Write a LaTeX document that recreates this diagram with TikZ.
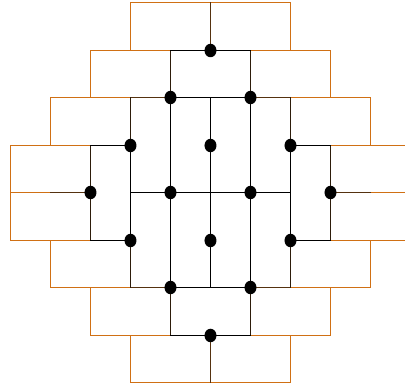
\documentclass[tikz,border=0pt]{standalone}
\usetikzlibrary{shapes.geometric}
\definecolor{brickorange}{RGB}{208,112,20}
\definecolor{linkbrown}{RGB}{85,50,15}
\definecolor{rimbrown}{RGB}{45,28,10}
\newcommand\gridseg[5]{%
  \pgfmathtruncatemacro\gsa{#2+5}\pgfmathtruncatemacro\gsb{#3+4}%
  \pgfmathtruncatemacro\gsc{#4+5}\pgfmathtruncatemacro\gsd{#5+4}%
  \draw[#1] (g\gsa-\gsb) -- (g\gsc-\gsd);}
\begin{document}
\begin{tikzpicture}[x=1pt,y=1pt,
  edgebase/.style={line width=1pt, line cap=rect},
  og/.style={edgebase, draw=brickorange},
  lb/.style={edgebase, draw=linkbrown},
  rb/.style={edgebase, draw=rimbrown},
  bk/.style={edgebase, draw=black},
  vdot/.style={ellipse, fill=black, inner sep=0pt, minimum width=12pt, minimum height=13.5pt}]
\useasboundingbox (-210.5,-194.5) rectangle (194.5,192.5);
\clip (-210.5,-194.5) rectangle (194.5,192.5);
\foreach \i in {-5,...,5}{
  \foreach \j in {-4,...,4}{
    \pgfmathtruncatemacro\ga{\i+5}\pgfmathtruncatemacro\gb{\j+4}
    \pgfmathsetmacro\gy{{-190,-143,-95,-48,0,47,95,142,190}[\gb]}
    \coordinate (g\ga-\gb) at (\i*40,\gy);
  }
}
% orange bricks
\foreach \a/\b/\c/\d in {
  -2/4/2/4, -3/3/-1/3, 1/3/3/3, -4/2/-2/2, 2/2/4/2,
  -5/1/-3/1, 3/1/5/1, -5/0/-4/0, 4/0/5/0, -5/-1/-3/-1, 3/-1/5/-1,
  -4/-2/-2/-2, 2/-2/4/-2, -3/-3/-1/-3, 1/-3/3/-3, -2/-4/2/-4,
  -2/3/-2/4, 2/3/2/4, -3/2/-3/3, 3/2/3/3, -4/1/-4/2, 4/1/4/2,
  -5/-1/-5/1, 5/-1/5/1, -4/-2/-4/-1, 4/-2/4/-1,
  -3/-3/-3/-2, 3/-3/3/-2, -2/-4/-2/-3, 2/-4/2/-3}
  {\gridseg{og}{\a}{\b}{\c}{\d}}
% brown links
\foreach \a/\b/\c/\d in {
  -2/2/-1/2, 1/2/2/2, -2/-2/-1/-2, 1/-2/2/-2,
  -4/0/-3/0, 3/0/4/0, 0/3/0/4, 0/-4/0/-3}
  {\gridseg{lb}{\a}{\b}{\c}{\d}}
% rim edges
\foreach \a/\b/\c/\d in {
  -3/-1/-3/1, 3/-1/3/1, -2/1/-2/2, 2/1/2/2, -2/-2/-2/-1, 2/-2/2/-1,
  -1/2/-1/3, 1/2/1/3, -1/-3/-1/-2, 1/-3/1/-2}
  {\gridseg{rb}{\a}{\b}{\c}{\d}}
% black interior
\foreach \a/\b/\c/\d in {
  -1/3/1/3, -1/2/1/2, -3/1/-2/1, 2/1/3/1, -2/0/2/0,
  -3/-1/-2/-1, 2/-1/3/-1, -1/-2/1/-2, -1/-3/1/-3,
  -2/-1/-2/1, 2/-1/2/1, -1/-2/-1/2, 1/-2/1/2, 0/-2/0/2}
  {\gridseg{bk}{\a}{\b}{\c}{\d}}
% vertices
\foreach \x/\y in {0/3,-1/2,1/2,-2/1,0/1,2/1,-3/0,-1/0,1/0,3/0,-2/-1,0/-1,2/-1,-1/-2,1/-2,0/-3}{
  \pgfmathtruncatemacro\ga{\x+5}\pgfmathtruncatemacro\gb{\y+4}
  \node[vdot] (d\ga-\gb) at (g\ga-\gb) {};
}
\end{tikzpicture}
\end{document}
